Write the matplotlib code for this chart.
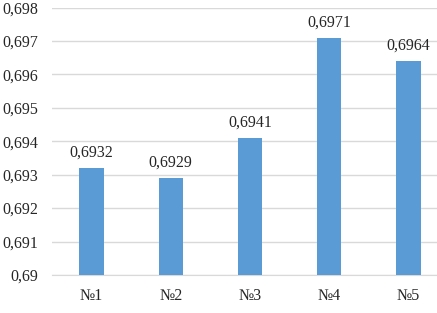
import matplotlib.pyplot as plt
from matplotlib.ticker import FuncFormatter

# Данные
categorias = ['№1', '№2', '№3', '№4', '№5']
valores = [0.6932, 0.6929, 0.6941, 0.6971, 0.6964]
rotulos = ['0,6932', '0,6929', '0,6941', '0,6971', '0,6964']

plt.rcParams['font.family'] = ['Liberation Serif', 'DejaVu Serif']

fig = plt.figure(figsize=(4.37, 3.13), dpi=100)
ax = fig.add_axes([52 / 437, 1 - 275 / 313, (448 - 52) / 437, (275 - 7.5) / 313])

x = range(len(categorias))
barras = ax.bar(x, valores, width=0.31, color='#5B9BD5', zorder=3)

for b, r in zip(barras, rotulos):
    ax.annotate(r, (b.get_x() + b.get_width() / 2, b.get_height()),
                xytext=(0, 5), textcoords='offset points',
                ha='center', va='bottom', fontsize=11.5, color='#262626')

ax.set_ylim(0.69, 0.698)
ax.set_xlim(-0.5, 4.5)
ax.set_yticks([0.69 + i * 0.001 for i in range(9)])
ax.yaxis.set_major_formatter(FuncFormatter(
    lambda v, p: ('%g' % round(v, 3)).replace('.', ',')))
ax.set_xticks(list(x))
ax.set_xticklabels(categorias)

ax.grid(axis='y', color='#D9D9D9', linewidth=1, zorder=0)
for s in ['top', 'right', 'left']:
    ax.spines[s].set_visible(False)
ax.spines['bottom'].set_color('#D9D9D9')
ax.tick_params(axis='both', length=0, labelsize=11.5, colors='#262626')
ax.tick_params(axis='y', pad=10)
ax.tick_params(axis='x', pad=9)

fig.savefig('out.png', dpi=100)
